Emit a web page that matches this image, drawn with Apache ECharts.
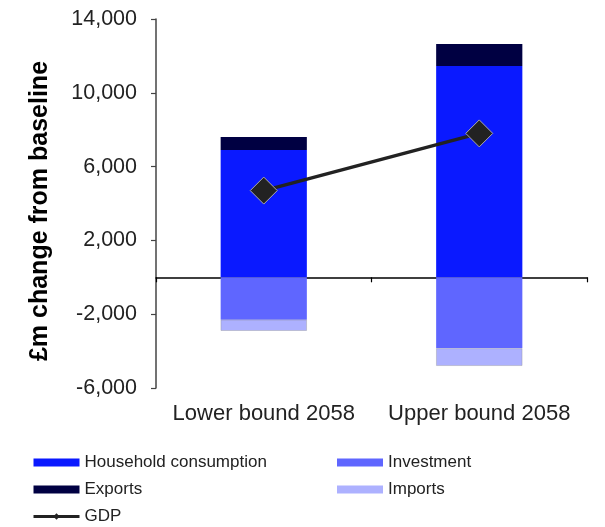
<!DOCTYPE html>
<html>
<head>
<meta charset="utf-8">
<script src="https://cdn.jsdelivr.net/npm/echarts@6/dist/echarts.min.js"></script>
<style>
html,body{margin:0;padding:0;background:#fff;}
#chart{width:605px;height:527px;}
</style>
</head>
<body>
<div id="chart"></div>
<script>
var categories = ['Lower bound 2058', 'Upper bound 2058'];
var household = [6900, 11450];
var exportsV = [700, 1200];
var investment = [-2300, -3850];
var imports = [-600, -950];
var gdp = [4700, 7800];
var yTicks = [-6000, -2000, 2000, 6000, 10000, 14000];

var chart = echarts.init(document.getElementById('chart'));
var font = 'Liberation Sans, Arial, sans-serif';

chart.setOption({
  animation: false,
  backgroundColor: '#fff',
  grid: {left: 156, right: 18, top: 19, bottom: 139, containLabel: false},
  xAxis: [{
    type: 'category',
    data: categories,
    axisLine: {onZero: true, lineStyle: {color: '#000', width: 1.5}},
    axisTick: {show: true, length: 5, inside: false, lineStyle: {color: '#000', width: 1.2}},
    axisLabel: {show: false},
    splitLine: {show: false}
  }, {
    type: 'category',
    position: 'bottom',
    data: categories,
    axisLine: {show: false, onZero: false},
    axisTick: {show: false},
    axisLabel: {show: true, interval: 0, margin: 15, fontFamily: font, fontSize: 22, color: '#222'}
  }],
  yAxis: {
    type: 'value',
    min: yTicks[0],
    max: yTicks[yTicks.length - 1],
    interval: 4000,
    axisLine: {show: true, lineStyle: {color: '#444', width: 1.5}},
    axisTick: {show: true, length: 5, lineStyle: {color: '#444', width: 1.2}},
    splitLine: {show: false},
    axisLabel: {
      margin: 19, fontFamily: font, fontSize: 21.5, color: '#222',
      formatter: function (v) { return v.toLocaleString('en-GB'); }
    }
  },
  legend: [{
    orient: 'vertical',
    left: 32, top: 454, padding: 0, height: 80,
    itemWidth: 46, itemHeight: 8, itemGap: 10,
    textStyle: {fontFamily: font, fontSize: 17, color: '#222', lineHeight: 17},
    data: [
      {name: 'Household consumption', icon: 'rect'},
      {name: 'Exports', icon: 'rect'},
      {name: 'GDP', lineStyle: {width: 3, color: '#222'}, itemStyle: {color: '#222', borderWidth: 0}}
    ]
  }, {
    orient: 'vertical',
    left: 337, top: 454, padding: 0, height: 80,
    itemWidth: 46, itemHeight: 8, itemGap: 10,
    textStyle: {fontFamily: font, fontSize: 17, color: '#222', lineHeight: 17},
    data: [
      {name: 'Investment', icon: 'rect'},
      {name: 'Imports', icon: 'rect', itemStyle: {borderWidth: 0}}
    ]
  }],
  graphic: [{
    type: 'text',
    x: 40, y: 211,
    rotation: Math.PI / 2,
    style: {
      text: '£m change from baseline',
      fontFamily: font, fontSize: 25, fontWeight: 'bold', fill: '#000',
      align: 'center', verticalAlign: 'middle'
    }
  }],
  series: [{
    name: 'Household consumption', type: 'bar', stack: 'a', barWidth: '40%',
    itemStyle: {color: '#0A19FF'}, data: household
  }, {
    name: 'Exports', type: 'bar', stack: 'a',
    itemStyle: {color: '#000042'}, data: exportsV
  }, {
    name: 'Investment', type: 'bar', stack: 'a',
    itemStyle: {color: '#5F66FF'}, data: investment
  }, {
    name: 'Imports', type: 'bar', stack: 'a',
    itemStyle: {color: '#ADB1FF', borderColor: 'rgba(140,140,140,0.6)', borderWidth: 0.6}, data: imports
  }, {
    name: 'GDP', type: 'line', data: gdp,
    symbol: 'diamond', symbolSize: 27,
    lineStyle: {color: '#222', width: 3.5},
    itemStyle: {color: '#222', borderColor: '#aaa', borderWidth: 1},
    z: 5
  }]
});
</script>
</body>
</html>
